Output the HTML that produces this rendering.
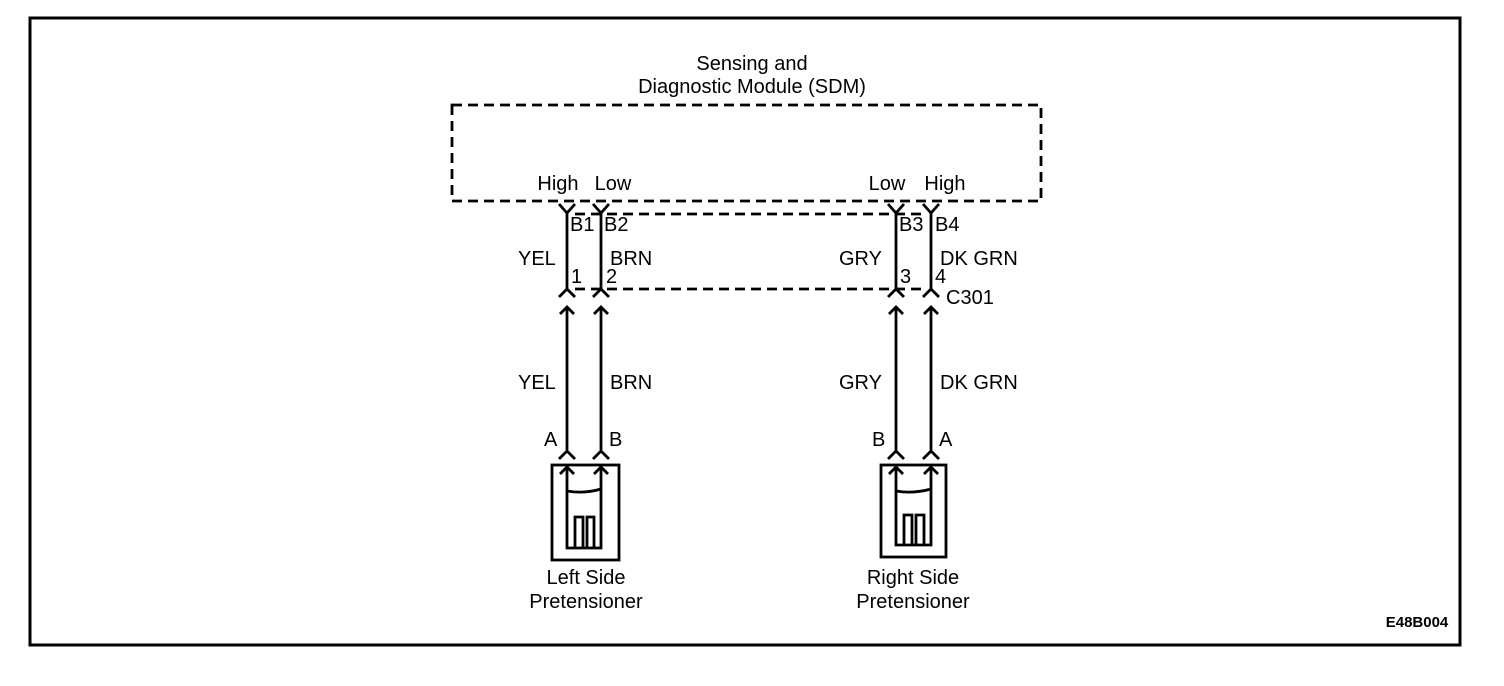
<!DOCTYPE html>
<html><head><style>
body{margin:0;background:#fff}
svg{display:block}
text{font-family:"Liberation Sans",Arial,sans-serif;font-size:20px;fill:#000}
</style></head><body>
<svg width="1504" height="686" viewBox="0 0 1504 686">
<rect x="30" y="18" width="1430" height="627" fill="none" stroke="#000" stroke-width="3"/>
<text x="752" y="70" text-anchor="middle">Sensing and</text>
<text x="752" y="93" text-anchor="middle">Diagnostic Module (SDM)</text>
<rect x="452" y="105" width="589" height="96" fill="none" stroke="#000" stroke-width="2.8" stroke-dasharray="10,6"/>
<text x="558" y="190" text-anchor="middle">High</text>
<text x="613" y="190" text-anchor="middle">Low</text>
<text x="887" y="190" text-anchor="middle">Low</text>
<text x="945" y="190" text-anchor="middle">High</text>
<g stroke="#000" stroke-width="2.8" fill="none">
<line x1="575" y1="214" x2="925" y2="214" stroke-dasharray="10,6"/>
<line x1="575" y1="289" x2="925" y2="289" stroke-dasharray="10,6"/>
<line x1="567" y1="213" x2="567" y2="289"/><line x1="601" y1="213" x2="601" y2="289"/>
<line x1="896" y1="213" x2="896" y2="289"/><line x1="931" y1="213" x2="931" y2="289"/>
<line x1="567" y1="307" x2="567" y2="450"/><line x1="601" y1="307" x2="601" y2="450"/>
<line x1="896" y1="307" x2="896" y2="450"/><line x1="931" y1="307" x2="931" y2="450"/>
<path d="M559 204L567 213L575 204M593 204L601 213L609 204M888 204L896 213L904 204M923 204L931 213L939 204"/>
<path d="M559 297L567 289L575 297M593 297L601 289L609 297M888 297L896 289L904 297M923 297L931 289L939 297"/>
<path d="M559 459L567 451L575 459M593 459L601 451L609 459M888 459L896 451L904 459M923 459L931 451L939 459"/>
<path d="M560 314L567 307L574 314M594 314L601 307L608 314M889 314L896 307L903 314M924 314L931 307L938 314"/>
<rect x="552" y="465" width="67" height="95"/>
<rect x="881" y="465" width="65" height="92"/>
<path d="M560 474L567 467L574 474M594 474L601 467L608 474M889 474L896 467L903 474M924 474L931 467L938 474"/>
<path d="M567 467V548H601V467M567 491Q584 494 601 489"/>
<path d="M575 548V517H583V548M587 548V517H594V548"/>
<path d="M896 467V545H931V467M896 491Q913 494 931 489"/>
<path d="M904 545V515H912V545M916 545V515H924V545"/>
</g>
<text x="570" y="231">B1</text><text x="604" y="231">B2</text>
<text x="899" y="231">B3</text><text x="935" y="231">B4</text>
<text x="518" y="265">YEL</text><text x="610" y="265">BRN</text>
<text x="839" y="265">GRY</text><text x="940" y="265">DK GRN</text>
<text x="571" y="283">1</text><text x="606" y="283">2</text>
<text x="900" y="283">3</text><text x="935" y="283">4</text>
<text x="946" y="304">C301</text>
<text x="518" y="389">YEL</text><text x="610" y="389">BRN</text>
<text x="839" y="389">GRY</text><text x="940" y="389">DK GRN</text>
<text x="544" y="446">A</text><text x="609" y="446">B</text>
<text x="872" y="446">B</text><text x="939" y="446">A</text>
<text x="586" y="584" text-anchor="middle">Left Side</text>
<text x="586" y="608" text-anchor="middle">Pretensioner</text>
<text x="913" y="584" text-anchor="middle">Right Side</text>
<text x="913" y="608" text-anchor="middle">Pretensioner</text>
<text x="1417" y="627" text-anchor="middle" style="font-size:15px;font-weight:bold">E48B004</text>
</svg>
</body></html>
